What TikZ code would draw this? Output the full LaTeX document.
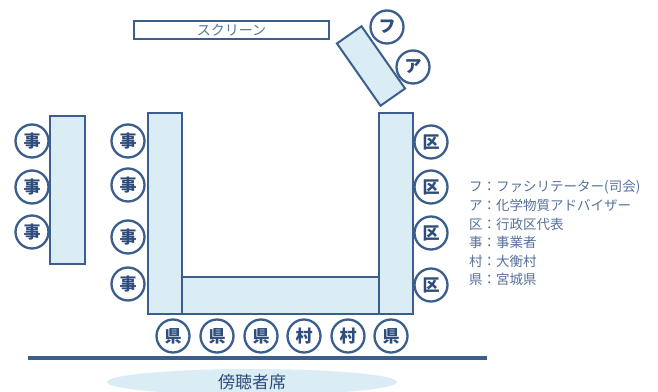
\documentclass[tikz,border=0pt]{standalone}
\usepackage{fontspec}
\usetikzlibrary{shapes.geometric}
\newfontfamily\jp{Noto Sans CJK JP}
\definecolor{edge}{HTML}{3B5E8C}
\definecolor{paneL}{HTML}{DAEDF4}
\definecolor{ink}{HTML}{2E4D7C}
\definecolor{legendc}{HTML}{55709A}
\begin{document}
\begin{tikzpicture}[x=1pt,y=-1pt,
  desk/.style={draw=edge, line width=2pt, fill=paneL, inner sep=0pt},
  seat/.style={circle, draw=edge, line width=2.3pt, fill=white, minimum size=33pt, inner sep=0pt, font=\jp\fontsize{17}{17}\selectfont\bfseries, text=ink},
  legend/.style={anchor=west, font=\jp\fontsize{13.5}{13.5}\selectfont, text=legendc, inner sep=0pt}]
\useasboundingbox (0,0) rectangle (658,391);
% screen
\node[draw=edge, line width=2pt, fill=white, minimum width=195pt, minimum height=18pt, inner sep=0pt,
      font=\jp\fontsize{14}{14}\selectfont, text=edge!85] (screen) at (231.5,30) {スクリーン};
% tables
\node[desk, minimum width=35pt, minimum height=148pt] (lefttable) at (67.5,190) {};
\node[desk, minimum width=198pt, minimum height=37pt] (bottomtable) at (280.5,295.5) {};
\node[desk, minimum width=34pt, minimum height=201pt] (ltable) at (165,213.5) {};
\node[desk, minimum width=34pt, minimum height=201pt] (rtable) at (396,213.5) {};
\node[desk, minimum width=30pt, minimum height=76pt, rotate=35] (ftable) at (371,66) {};
% seats
\node[seat] (f) at (387,27) {フ};
\node[seat] (a) at (413,67) {ア};
\node[seat] (j1) at (32,141) {事};
\node[seat] (j2) at (32,187) {事};
\node[seat] (j3) at (32,232) {事};
\node[seat] (j4) at (128,141) {事};
\node[seat] (j5) at (128,185) {事};
\node[seat] (j6) at (128,237) {事};
\node[seat] (j7) at (128,284) {事};
\node[seat] (k1) at (431,142) {区};
\node[seat] (k2) at (431,187) {区};
\node[seat] (k3) at (431,233) {区};
\node[seat] (k4) at (431,285) {区};
\node[seat] (p1) at (173,336) {県};
\node[seat] (p2) at (217,336) {県};
\node[seat] (p3) at (261,336) {県};
\node[seat] (v1) at (304,336) {村};
\node[seat] (v2) at (348,336) {村};
\node[seat] (p4) at (391,336) {県};
% floor line
\draw[edge, line width=4.5pt] (28,358) -- (487,358);
% audience
\node[ellipse, fill=paneL, minimum width=290pt, minimum height=26pt, inner sep=0pt,
      font=\jp\fontsize{17}{17}\selectfont, text=ink] (aud) at (252,382) {傍聴者席};
% legend
\node[legend] (l1) at (469,187) {フ：ファシリテーター(司会)};
\node[legend] (l2) at (469,205.5) {ア：化学物質アドバイザー};
\node[legend] (l3) at (469,224) {区：行政区代表};
\node[legend] (l4) at (469,242.5) {事：事業者};
\node[legend] (l5) at (469,261) {村：大衡村};
\node[legend] (l6) at (469,279.5) {県：宮城県};
\end{tikzpicture}
\end{document}
